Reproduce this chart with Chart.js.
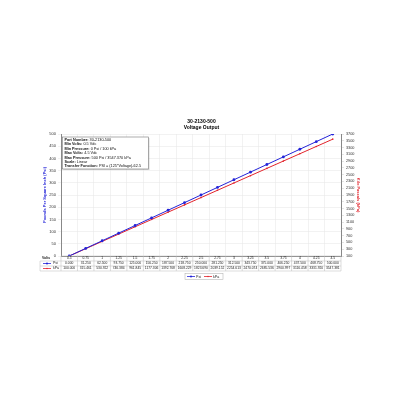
<!DOCTYPE html>
<html>
<head>
<meta charset="utf-8">
<script src="https://cdn.jsdelivr.net/npm/chart.js@4.4.0/dist/chart.umd.min.js"></script>
<style>
html, body { margin: 0; padding: 0; background: #fff; }
#wrap { width: 400px; height: 400px; }
</style>
</head>
<body>
<div id="wrap"><canvas id="grafico" width="400" height="400"></canvas></div>
<script>
const volts = ['0.5', '0.75', '1', '1.25', '1.5', '1.75', '2', '2.25', '2.5', '2.75', '3', '3.25', '3.5', '3.75', '4', '4.25', '4.5'];
const psi = [0, 31.25, 62.5, 93.75, 125, 156.25, 187.5, 218.75, 250, 281.25, 312.5, 343.75, 375, 406.25, 437.5, 468.75, 500];
const kpa = [100, 315.461, 530.922, 746.384, 961.845, 1177.306, 1392.768, 1608.229, 1823.690, 2039.152, 2254.613, 2470.074, 2685.536, 2900.997, 3116.458, 3331.920, 3547.381];
const infoLinhas = [
    ['Part Number:', ' 30-2130-500'],
    ['Min Volts:', ' 0.5 Vdc'],
    ['Min Pressure:', ' 0 Psi / 100 kPa'],
    ['Max Volts:', ' 4.5 Vdc'],
    ['Max Pressure:', ' 500 Psi / 3547.370 kPa'],
    ['Scale:', ' Linear'],
    ['Transfer Function:', ' PSI = (125*Voltage)-62.5']
];

const azul = '#2323d8';
const vermelho = '#e2242c';
const fonte = 'Liberation Sans, Arial, sans-serif';

const iconeSerie = (ctx, x, y, cor, ponto) => {
    ctx.strokeStyle = cor;
    ctx.lineWidth = 0.8;
    ctx.beginPath();
    ctx.moveTo(x, y);
    ctx.lineTo(x + 8, y);
    ctx.stroke();
    ctx.fillStyle = cor;
    ctx.beginPath();
    ctx.arc(x + 4, y, ponto, 0, Math.PI * 2);
    ctx.fill();
};

// desenha a caixa de info, a tabela de dados e a legenda
const extras = {
    id: 'extras',
    afterDraw(chart) {
        const ctx = chart.ctx;
        const area = chart.chartArea;
        const xs = chart.scales.x;
        const passo = xs.getPixelForValue(1) - xs.getPixelForValue(0);
        ctx.save();

        // caixa de info
        const bx = area.left + 1.5, by = area.top + 3, bw = 86, bh = 32;
        ctx.fillStyle = 'rgba(0,0,0,0.15)';
        ctx.fillRect(bx + 1, by + 1, bw, bh);
        ctx.fillStyle = '#fff';
        ctx.fillRect(bx, by, bw, bh);
        ctx.strokeStyle = '#777';
        ctx.lineWidth = 0.6;
        ctx.strokeRect(bx, by, bw, bh);
        ctx.textBaseline = 'middle';
        ctx.textAlign = 'left';
        infoLinhas.forEach((l, i) => {
            const y = by + 3 + i * 4.4;
            ctx.fillStyle = '#111';
            ctx.font = 'bold 3.8px ' + fonte;
            ctx.fillText(l[0], bx + 2, y);
            const w = ctx.measureText(l[0]).width;
            ctx.font = '3.8px ' + fonte;
            ctx.fillText(l[1], bx + 2 + w, y);
        });

        // tabela
        const top = area.bottom;
        const alt = 5;
        ctx.strokeStyle = '#bbb';
        ctx.lineWidth = 0.5;
        for (let r = 0; r <= 3; r++) {
            ctx.beginPath();
            ctx.moveTo(r === 0 ? area.left : 40, top + r * alt);
            ctx.lineTo(area.right, top + r * alt);
            ctx.stroke();
        }
        for (let i = 0; i <= volts.length; i++) {
            const x = xs.getPixelForValue(i) - passo / 2;
            ctx.beginPath();
            ctx.moveTo(x, top);
            ctx.lineTo(x, top + 3 * alt);
            ctx.stroke();
        }
        ctx.beginPath();
        ctx.moveTo(40, top + alt);
        ctx.lineTo(40, top + 3 * alt);
        ctx.stroke();

        ctx.textAlign = 'center';
        ctx.font = '3.3px ' + fonte;
        ctx.fillStyle = '#222';
        volts.forEach((v, i) => {
            const x = xs.getPixelForValue(i);
            ctx.fillText(v, x, top + alt * 0.5);
            ctx.fillText(psi[i].toFixed(3), x, top + alt * 1.5);
            ctx.fillText(kpa[i].toFixed(3), x, top + alt * 2.5);
        });
        ctx.font = 'bold 3.5px ' + fonte;
        ctx.textAlign = 'left';
        ctx.fillText('Volts', 42, top + alt * 0.5);
        ctx.font = '3.5px ' + fonte;
        [['Psi', azul, 1], ['kPa', vermelho, 0.7]].forEach((s, k) => {
            const y = top + alt * (1.5 + k);
            iconeSerie(ctx, 43, y, s[1], s[2]);
            ctx.fillStyle = '#222';
            ctx.fillText(s[0], 53, y);
        });

        // legenda
        const ly = 276.5;
        ctx.strokeStyle = '#aaa';
        ctx.lineWidth = 0.5;
        ctx.strokeRect(185, ly - 3, 38, 6);
        ctx.font = '3.6px ' + fonte;
        chart.data.datasets.forEach((d, k) => {
            const x = 187 + k * 17;
            iconeSerie(ctx, x, ly, d.borderColor, k === 0 ? 1 : 0.7);
            ctx.fillStyle = '#222';
            ctx.fillText(d.label, x + 9, ly);
        });
        ctx.restore();
    }
};

const grafico = new Chart(document.getElementById('grafico').getContext('2d'), {
    type: 'line',
    data: {
        labels: volts,
        datasets: [{
            label: 'Psi',
            data: psi,
            yAxisID: 'y',
            borderColor: azul,
            backgroundColor: azul,
            borderWidth: 1,
            pointRadius: 1.4,
            pointBorderWidth: 0
        }, {
            label: 'kPa',
            data: kpa,
            yAxisID: 'y1',
            borderColor: vermelho,
            backgroundColor: vermelho,
            borderWidth: 1,
            pointRadius: 0.8,
            pointBorderWidth: 0
        }]
    },
    options: {
        responsive: false,
        animation: false,
        layout: { padding: { top: 119, left: 41, right: 38, bottom: 129 } },
        plugins: {
            title: {
                display: true,
                text: ['30-2130-500', 'Voltage Output'],
                color: '#000',
                font: { size: 5, weight: 'bold', family: fonte, lineHeight: 1.1 },
                padding: { top: 0, bottom: 4 }
            },
            legend: { display: false },
            tooltip: { enabled: false }
        },
        scales: {
            x: {
                offset: true,
                grid: { offset: true, color: '#e4e4e4', lineWidth: 0.5, tickLength: 0 },
                border: { color: '#888' },
                ticks: { display: false },
                afterFit: s => { s.height = 15; }
            },
            y: {
                position: 'left',
                min: 0,
                max: 500,
                ticks: { stepSize: 50, autoSkip: false, font: { size: 4, family: fonte }, color: '#333', padding: 2 },
                grid: { color: '#e4e4e4', lineWidth: 0.5, tickLength: 3 },
                border: { color: '#888' },
                title: { display: true, text: 'Pounds Per Square Inch (Psi)', color: azul, font: { size: 4, weight: 'bold', family: fonte }, padding: 1 },
                afterFit: s => { s.width = 20; }
            },
            y1: {
                position: 'right',
                min: 100,
                max: 3700,
                ticks: { stepSize: 200, autoSkip: false, font: { size: 3.8, family: fonte }, color: '#333', padding: 2, callback: v => String(v) },
                grid: { drawOnChartArea: false, tickLength: 3 },
                border: { color: '#888' },
                title: { display: true, text: 'Kilo Pascals (kPa)', color: vermelho, font: { size: 4, weight: 'bold', family: fonte }, padding: 1 },
                afterFit: s => { s.width = 21; }
            }
        }
    },
    plugins: [extras]
});
</script>
</body>
</html>
